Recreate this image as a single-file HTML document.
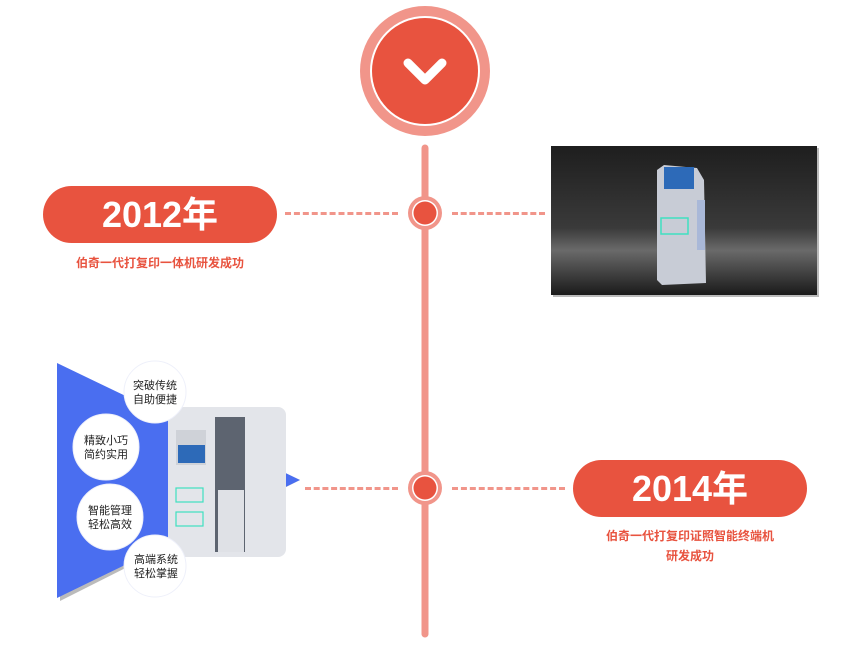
<!DOCTYPE html>
<html><head><meta charset="utf-8"><style>
body{margin:0;width:850px;height:650px;background:#fff;position:relative;overflow:hidden;font-family:"Liberation Sans","Noto Sans CJK SC",sans-serif}
.pill{position:absolute;background:#e8533f;border-radius:29px;color:#fff;font-weight:bold;font-size:36px;text-align:center;line-height:57px;height:57px;width:234px}
.cap{position:absolute;color:#e8533f;font-weight:bold;font-size:12px;text-align:center;line-height:20px}
.dash{position:absolute;height:0;border-top:3px dashed #f1958a}
</style></head><body>
<svg width="850" height="650" style="position:absolute;left:0;top:0">
<line x1="425" y1="148" x2="425" y2="634" stroke="#f1958a" stroke-width="7" stroke-linecap="round"/>
<circle cx="425" cy="71" r="65" fill="#f1958a"/>
<circle cx="425" cy="71" r="55" fill="#fff"/>
<circle cx="425" cy="71" r="53" fill="#e8533f"/>
<polyline points="408,63 425,80 442,63" fill="none" stroke="#fff" stroke-width="9" stroke-linecap="round" stroke-linejoin="round"/>
<circle cx="425" cy="213" r="17" fill="#f1958a"/><circle cx="425" cy="213" r="13" fill="#fff"/><circle cx="425" cy="213" r="11.5" fill="#e8533f"/>
<circle cx="425" cy="488" r="17" fill="#f1958a"/><circle cx="425" cy="488" r="13" fill="#fff"/><circle cx="425" cy="488" r="11.5" fill="#e8533f"/>
<rect x="553" y="148" width="266" height="149" fill="#bbb"/>
<defs><linearGradient id="bg" x1="0" y1="0" x2="0" y2="1"><stop offset="0" stop-color="#1e1e1e"/><stop offset="0.55" stop-color="#3a3a3a"/><stop offset="0.7" stop-color="#6a6a6a"/><stop offset="1" stop-color="#1a1a1a"/></linearGradient></defs>
<rect x="551" y="146" width="266" height="149" fill="url(#bg)"/>
<path d="M657,170 L664,165 L697,168 L704,180 L706,283 L662,285 L657,280 Z" fill="#c8ccd6"/>
<rect x="664" y="167" width="30" height="22" fill="#2d6ab8"/>
<rect x="661" y="218" width="27" height="16" fill="none" stroke="#3fe0c0" stroke-width="1.5"/>
<rect x="697" y="200" width="8" height="50" fill="#a9b8d8"/>
<polygon points="60,366 300,480 60,601" fill="#bbb"/>
<polygon points="57,363 300,480 57,598" fill="#4a6ef0"/>
<rect x="168" y="407" width="118" height="150" rx="8" fill="#e3e5ea"/>
<rect x="215" y="417" width="30" height="135" fill="#5d6470"/>
<rect x="218" y="490" width="26" height="62" fill="#dfe1e6"/>
<rect x="176" y="430" width="30" height="35" fill="#cfd2d8"/>
<rect x="178" y="445" width="27" height="18" fill="#2d6ab8"/>
<rect x="176" y="488" width="27" height="14" fill="none" stroke="#3fe0c0" stroke-width="1.2"/>
<rect x="176" y="512" width="27" height="14" fill="none" stroke="#3fe0c0" stroke-width="1.2"/>
<g fill="#fff" stroke="#eef0fa" stroke-width="1">
<circle cx="155" cy="392" r="31"/><circle cx="106" cy="447" r="33"/><circle cx="110" cy="517" r="33"/><circle cx="155" cy="566" r="31"/></g>
<g font-size="11" fill="#222" text-anchor="middle" font-family="Liberation Sans,Noto Sans CJK SC,sans-serif">
<text x="155" y="389">突破传统</text><text x="155" y="403">自助便捷</text>
<text x="106" y="444">精致小巧</text><text x="106" y="458">简约实用</text>
<text x="110" y="514">智能管理</text><text x="110" y="528">轻松高效</text>
<text x="156" y="563">高端系统</text><text x="156" y="577">轻松掌握</text>
</g>
</svg>
<div class="dash" style="left:285px;top:212px;width:113px"></div>
<div class="dash" style="left:452px;top:212px;width:93px"></div>
<div class="dash" style="left:305px;top:487px;width:93px"></div>
<div class="dash" style="left:452px;top:487px;width:113px"></div>
<div class="pill" style="left:43px;top:186px">2012年</div>
<div class="cap" style="left:43px;top:253px;width:234px">伯奇一代打复印一体机研发成功</div>
<div class="pill" style="left:573px;top:460px">2014年</div>
<div class="cap" style="left:573px;top:526px;width:234px">伯奇一代打复印证照智能终端机<br>研发成功</div>
</body></html>
